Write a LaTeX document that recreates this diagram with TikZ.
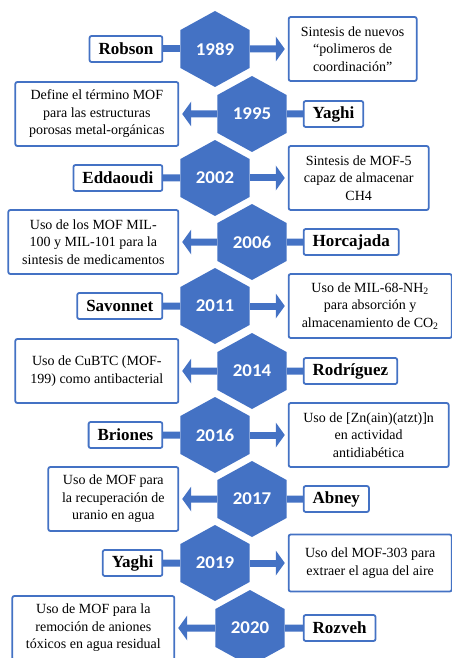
\documentclass[tikz,border=0pt]{standalone}
\usepackage{fontspec}
\setmainfont{Liberation Serif}
\newfontfamily\yearfont{Carlito}
\usetikzlibrary{shapes.geometric,positioning,arrows.meta}
\definecolor{mofblue}{HTML}{4472C4}
\tikzset{
  year/.style={regular polygon, regular polygon sides=6, shape border rotate=30,
    minimum size=76pt, inner sep=0pt, fill=mofblue, text=white,
    xscale=1.05, transform shape,
    font=\yearfont\bfseries\fontsize{18}{20}\selectfont},
  who/.style={draw=mofblue, line width=1.8pt, rounded corners=2pt, fill=white,
    minimum height=26pt, inner xsep=9pt, inner ysep=2pt,
    font=\bfseries\fontsize{17}{20}\selectfont},
  what/.style={draw=mofblue, line width=1.8pt, rounded corners=2pt, fill=white,
    minimum height=64pt, align=center, inner xsep=3pt,
    font=\fontsize{14}{17.5}\selectfont},
  band/.style={mofblue, line width=7pt},
  pointer/.style={mofblue, line width=7pt,
    -{Triangle[length=9pt,width=25pt,line width=0pt]}, shorten >=3pt},
}
\begin{document}
\begin{tikzpicture}[x=1pt,y=1pt]
\useasboundingbox (0,0) rectangle (452,-658);

\node[year] (h1) at (215,-49) {1989};
\node[year] (h2) at (252,-114) {1995};
\node[year] (h3) at (215,-178) {2002};
\node[year] (h4) at (252,-242) {2006};
\node[year] (h5) at (215,-306) {2011};
\node[year] (h6) at (252,-371) {2014};
\node[year] (h7) at (215,-435) {2016};
\node[year] (h8) at (252,-499) {2017};
\node[year] (h9) at (215,-563) {2019};
\node[year] (h10) at (250,-628) {2020};

\node[who] (n1) [left=17pt of h1] {Robson};
\node[who] (n2) [right=16pt of h2] {Yaghi};
\node[who] (n3) [left=17pt of h3] {Eddaoudi};
\node[who] (n4) [right=16pt of h4] {Horcajada};
\node[who] (n5) [left=17pt of h5] {Savonnet};
\node[who] (n6) [right=16pt of h6] {Rodríguez};
\node[who] (n7) [left=17pt of h7] {Briones};
\node[who] (n8) [right=16pt of h8] {Abney};
\node[who] (n9) [left=17pt of h9] {Yaghi};
\node[who] (n10) [right=18pt of h10] {Rozveh};

\node[what, minimum width=128pt] (d1) [right=38pt of h1]
  {Sintesis de nuevos\\“polimeros de\\coordinación”};
\node[what, minimum width=163pt] (d2) [left=38pt of h2]
  {Define el término MOF\\para las estructuras\\porosas metal-orgánicas};
\node[what, minimum width=140pt] (d3) [right=38pt of h3]
  {Sintesis de MOF-5\\capaz de almacenar\\CH4};
\node[what, minimum width=170pt] (d4) [left=38pt of h4]
  {Uso de los MOF MIL-\\100 y MIL-101 para la\\sintesis de medicamentos};
\node[what, minimum width=163pt] (d5) [right=38pt of h5]
  {Uso de MIL-68-NH\textsubscript{2}\\para absorción y\\almacenamiento de CO\textsubscript{2}};
\node[what, minimum width=163pt] (d6) [left=38pt of h6]
  {Uso de CuBTC (MOF-\\199) como antibacterial};
\node[what, minimum width=160pt] (d7) [right=38pt of h7]
  {Uso de [Zn(ain)(atzt)]n\\en actividad\\antidiabética};
\node[what, minimum width=130pt] (d8) [left=38pt of h8]
  {Uso de MOF para\\la recuperación de\\uranio en agua};
\node[what, minimum width=163pt, minimum height=57pt] (d9) [right=38pt of h9]
  {Uso del MOF-303 para\\extraer el agua del aire};
\node[what, minimum width=162pt] (d10) [left=40pt of h10]
  {Uso de MOF para la\\remoción de aniones\\tóxicos en agua residual};

\draw[band] (n1) -- (h1);
\draw[band] (n2) -- (h2);
\draw[band] (n3) -- (h3);
\draw[band] (n4) -- (h4);
\draw[band] (n5) -- (h5);
\draw[band] (n6) -- (h6);
\draw[band] (n7) -- (h7);
\draw[band] (n8) -- (h8);
\draw[band] (n9) -- (h9);
\draw[band] (n10) -- (h10);

\draw[pointer] (h1) -- (d1);
\draw[pointer] (h2) -- (d2);
\draw[pointer] (h3) -- (d3);
\draw[pointer] (h4) -- (d4);
\draw[pointer] (h5) -- (d5);
\draw[pointer] (h6) -- (d6);
\draw[pointer] (h7) -- (d7);
\draw[pointer] (h8) -- (d8);
\draw[pointer] (h9) -- (d9);
\draw[pointer] (h10) -- (d10);
\end{tikzpicture}
\end{document}
